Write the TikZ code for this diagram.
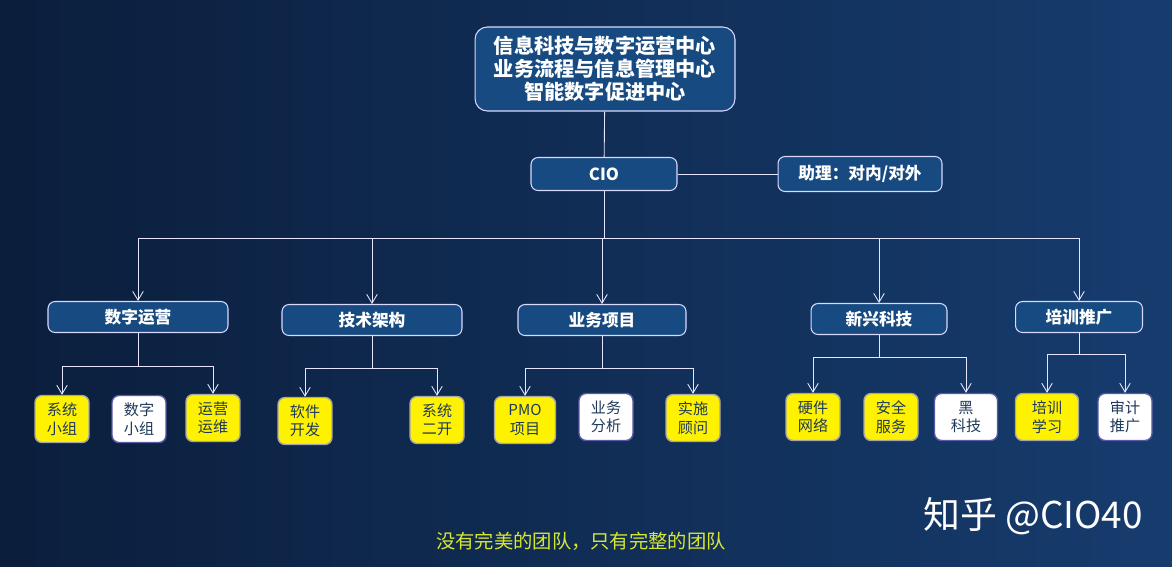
\documentclass[tikz,border=0pt]{standalone}
\usepackage{fontspec}
\setmainfont{Noto Sans CJK SC}
\usetikzlibrary{arrows.meta, positioning}
\definecolor{bgleft}{HTML}{0B1E3C}
\definecolor{bgright}{HTML}{163C6E}
\definecolor{boxblue}{HTML}{164A80}
\definecolor{txtdark}{HTML}{1F3A5A}
\definecolor{motto}{HTML}{D8E830}
\tikzset{
  head/.style={rectangle, rounded corners=4pt, draw=white!85!blue, line width=0.6pt, fill=boxblue, text=white, font=\bfseries\fontsize{9.5}{11}\selectfont, minimum height=0.62cm, align=center},
  leaf/.style={rectangle, rounded corners=4pt, draw=gray!70, line width=0.8pt, fill=yellow, text=txtdark, font=\fontsize{8.6}{10.5}\selectfont, minimum width=1.08cm, minimum height=0.94cm, align=center, inner sep=1pt},
  leafw/.style={leaf, fill=white, draw=blue!30!gray},
  link/.style={draw=white!90!blue, line width=0.5pt},
  arrow/.style={link, -{Straight Barb[length=5pt, width=6pt]}}
}
\begin{document}
\begin{tikzpicture}[x=0.02cm, y=-0.02cm]
  \shade[left color=bgleft, right color=bgright] (0,0) rectangle (1172,566);
  \useasboundingbox (0,0) rectangle (1172,566);
  % Top levels
  \node[head, minimum width=5.2cm, minimum height=1.68cm, rounded corners=7pt, font=\bfseries\fontsize{11.5}{13}\selectfont] (center) at (605,69) {信息科技与数字运营中心\\业务流程与信息管理中心\\智能数字促进中心};
  \node[head, minimum width=2.92cm, minimum height=0.66cm] (cio) at (604,174) {CIO};
  \node[head, minimum width=3.28cm, minimum height=0.7cm] (assist) at (860,174) {助理：对内/对外};
  \draw[link] (center) -- (cio);
  \draw[link] (cio) -- (assist);
  % Second level
  \node[head, minimum width=3.6cm] (szyy) at (138,317) {数字运营};
  \node[head, minimum width=3.6cm] (jsjg) at (372,320) {技术架构};
  \node[head, minimum width=3.36cm] (ywxm) at (602,320) {业务项目};
  \node[head, minimum width=2.72cm] (xxkj) at (879,319) {新兴科技};
  \node[head, minimum width=2.54cm] (pxtg) at (1079,317) {培训推广};
  \coordinate (bar) at (604,238);
  \draw[link] (cio) -- (bar);
  \foreach \n in {szyy, jsjg, ywxm, xxkj, pxtg}
    \draw[arrow] (bar) -| (\n);
  % Third level
  \node[leaf]  (xtxz) at (62,419)  {系统\\小组};
  \node[leafw] (szxz) at (139,419) {数字\\小组};
  \node[leaf]  (yyyw) at (213,418) {运营\\运维};
  \node[leaf]  (rjkf) at (305,421) {软件\\开发};
  \node[leaf]  (xtek) at (437,420) {系统\\二开};
  \node[leaf, minimum width=1.22cm]  (pmo) at (525,420) {PMO\\项目};
  \node[leafw] (ywfx) at (606,417) {业务\\分析};
  \node[leaf]  (ssgw) at (693,418) {实施\\顾问};
  \node[leaf]  (yjwl) at (813,417) {硬件\\网络};
  \node[leaf]  (aqfw) at (891,417) {安全\\服务};
  \node[leafw, minimum width=1.26cm] (hkj) at (966,417) {黑\\科技};
  \node[leaf, minimum width=1.26cm]  (pxxx) at (1047,417) {培训\\学习};
  \node[leafw] (sjtg) at (1125,417) {审计\\推广};
  \coordinate (j1) at (138,366);
  \coordinate (j2) at (372,368);
  \coordinate (j3) at (602,368);
  \coordinate (j4) at (879,357);
  \coordinate (j5) at (1079,354);
  \draw[link] (szyy) -- (j1);
  \draw[link] (jsjg) -- (j2);
  \draw[link] (ywxm) -- (j3);
  \draw[link] (xxkj) -- (j4);
  \draw[link] (pxtg) -- (j5);
  \draw[arrow] (j1) -| (xtxz);
  \draw[arrow] (j1) -| (yyyw);
  \draw[arrow] (j2) -| (rjkf);
  \draw[arrow] (j2) -| (xtek);
  \draw[arrow] (j3) -| (pmo);
  \draw[arrow] (j3) -| (ssgw);
  \draw[arrow] (j4) -| (yjwl);
  \draw[arrow] (j4) -| (hkj);
  \draw[arrow] (j5) -| (pxxx);
  \draw[arrow] (j5) -| (sjtg);
  % Footer
  \node[text=motto, font=\fontsize{11}{13}\selectfont] (motto) at (581,541) {没有完美的团队，只有完整的团队};
  \node[text=white, font=\fontsize{21}{24}\selectfont] (mark) at (1033,516) {知乎 @CIO40};
\end{tikzpicture}
\end{document}
